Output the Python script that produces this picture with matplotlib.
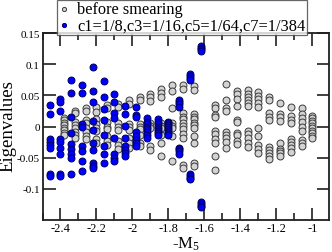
import matplotlib
matplotlib.use('Agg')
import matplotlib.pyplot as plt
import numpy as np

# eigenvalues, one list per -M5 column

# before smearing
gray_x = [-2.38, -2.32, -2.26, -2.20, -2.14, -2.08, -2.02, -1.96, -1.90, -1.84,
          -1.78, -1.72, -1.66, -1.54, -1.48, -1.42, -1.36, -1.30, -1.24, -1.18,
          -1.12, -1.06, -1.00]
gray_y = [
    [0.014, 0.010, 0.006, 0.002, -0.002, -0.006, -0.010, -0.014],
    [0.025, 0.021, 0.008, 0.003, -0.003, -0.009, -0.014, -0.019],
    [0.030, 0.025, 0.010, 0.006, -0.003, -0.009, -0.015, -0.020],
    [0.031, 0.024, 0.012, 0.004, -0.003, -0.008, -0.020, -0.027],
    [0.034, 0.029, 0.007, 0.000, -0.004, -0.015, -0.023, -0.030],
    [0.036, 0.032, 0.005, 0.000, -0.005, -0.023, -0.030, -0.037],
    [0.042, 0.037, 0.004, 0.000, -0.005, -0.019, -0.027, -0.034],
    [0.047, 0.042, 0.004, 0.000, -0.004, -0.014, -0.026, -0.031],
    [0.052, 0.047, 0.041, 0.005, 0.001, -0.003, -0.031, -0.038],
    [0.061, 0.054, 0.047, 0.005, 0.001, -0.003, -0.014, -0.026, -0.048],
    [0.066, 0.057, 0.030, 0.005, 0.001, -0.003, -0.015, -0.055],
    [0.066, 0.060, 0.021, 0.016, 0.012, 0.006, 0.001, -0.004, -0.012, -0.019, -0.062, -0.067],
    [0.065, 0.059, 0.020, 0.016, 0.012, 0.006, 0.002, -0.003, -0.016, -0.026, -0.059, -0.064],
    [0.034, 0.029, 0.019, 0.015, -0.007, -0.012, -0.020, -0.027, -0.047, -0.070],
    [0.069, 0.042, 0.030, 0.025, -0.009, -0.014, -0.019, -0.025, -0.035],
    [0.057, 0.052, 0.044, 0.033, 0.011, 0.008, -0.010, -0.014, -0.024, -0.028],
    [0.058, 0.053, 0.048, 0.043, 0.038, 0.033, -0.007, -0.012, -0.019, -0.027, -0.033],
    [0.055, 0.049, 0.044, 0.038, 0.031, -0.002, -0.016, -0.030, -0.036, -0.042],
    [0.048, 0.043, 0.021, 0.015, 0.010, -0.033, -0.038, -0.043, -0.048, -0.053],
    [0.038, 0.020, 0.015, 0.009, -0.026, -0.037, -0.040, -0.043, -0.047],
    [0.032, 0.017, 0.011, 0.005, -0.020, -0.025, -0.030, -0.035, -0.041],
    [0.030, 0.020, 0.013, 0.007, -0.001, -0.008, -0.021, -0.027, -0.032],
    [0.017, 0.013, 0.009, 0.005, 0.001, -0.003, -0.007, -0.011, -0.015, -0.019],
]

# smeared, c1=1/8,c3=1/16,c5=1/64,c7=1/384
blue_x = [-2.46, -2.40, -2.34, -2.28, -2.22, -2.16, -2.10, -2.04, -1.98, -1.92,
          -1.86, -1.80, -1.74, -1.68, -1.62]
blue_y = [
    [0.035, 0.020, -0.020, -0.025, -0.030, -0.035, -0.077, -0.080],
    [0.045, 0.040, 0.025, -0.020, -0.025, -0.034, -0.044, -0.077, -0.079],
    [0.075, 0.054, 0.0145, -0.011, -0.028, -0.036, -0.044, -0.050, -0.076],
    [0.0666, 0.054, 0.0037, -0.0016, -0.032, -0.039, -0.055, -0.071],
    [0.096, 0.057, 0.040, 0.009, -0.0055, -0.026, -0.038, -0.058, -0.063, -0.067],
    [0.074, 0.048, 0.028, 0.011, -0.013, -0.031, -0.044, -0.058],
    [0.052, 0.040, 0.021, 0.014, -0.018, -0.045, -0.050, -0.055],
    [0.033, 0.020, 0.001, -0.019, -0.032, -0.038, -0.043, -0.047],
    [0.031, 0.018, 0.015, -0.009, -0.016, -0.021, -0.027, -0.032],
    [0.013, 0.008, 0.004, 0.000, -0.004, -0.009, -0.014, -0.019],
    [0.012, 0.008, 0.004, 0.000, -0.004, -0.008, -0.011, -0.014],
    [0.008, 0.005, 0.002, -0.001, -0.004, -0.008, -0.011, -0.014],
    [0.043, 0.040, 0.036, 0.032, -0.034, -0.037, -0.040, -0.044],
    [0.084, 0.081, 0.078, 0.075, -0.077, -0.080, -0.083, -0.085],
    [0.130, 0.127, 0.124, 0.121, -0.122, -0.125, -0.128, -0.130],
]

plt.rcParams['font.family'] = ['Liberation Serif', 'DejaVu Serif']
plt.rcParams['mathtext.default'] = 'regular'

W, H = 332, 253
fig = plt.figure(figsize=(W / 100, H / 100), dpi=100)
ax = fig.add_axes([42.5 / W, 1 - 220.7 / H, 286 / W, 186.4 / H])

gx = np.concatenate([[x] * len(v) for x, v in zip(gray_x, gray_y)])
gy = np.concatenate(gray_y)
bx = np.concatenate([[x] * len(v) for x, v in zip(blue_x, blue_y)])
by = np.concatenate(blue_y)

ax.scatter(gx, gy, s=25, c='#d3d3d3', edgecolors='#3a3a3a', linewidths=0.7,
           label='before smearing', zorder=2)
ax.scatter(bx, by, s=25, c='#0000ff', edgecolors='#00005a', linewidths=0.7,
           label='c1=1/8,c3=1/16,c5=1/64,c7=1/384', zorder=3)

ax.set_xlim(-2.5, -0.91)
ax.set_ylim(-0.15, 0.15)
ax.set_xticks([-2.4, -2.2, -2.0, -1.8, -1.6, -1.4, -1.2, -1.0])
ax.set_xticklabels(['-2.4', '-2.2', '-2', '-1.8', '-1.6', '-1.4', '-1.2', '-1'])
ax.set_xticks(np.arange(-2.5, -0.9, 0.1), minor=True)
ax.set_yticks([-0.1, -0.05, 0, 0.05, 0.1, 0.15])
ax.set_yticklabels(['-0.1', '-0.05', '0', '0.05', '0.1', '0.15'])

ax.tick_params(which='both', direction='in', top=True, right=True, colors='#202020',
               labelcolor='black', width=1.2)
ax.tick_params(which='major', length=9, labelsize=9, pad=2)
ax.tick_params(which='minor', length=5)
ax.tick_params(axis='y', labelsize=8)
for sp in ax.spines.values():
    sp.set_linewidth(1.3)
    sp.set_color('#202020')

ax.set_xlabel('-M$_5$', fontsize=12, labelpad=0)
fig.text(8 / W, 1 - 126 / H, 'Eigenvalues', fontsize=13.5, rotation=90,
         ha='center', va='center')

leg = fig.legend(loc='upper left', bbox_to_anchor=(57 / W, 1 - 0.5 / H),
                 fontsize=11.8, frameon=True, fancybox=False, markerscale=0.6,
                 handlelength=0.6, handletextpad=0.5, borderpad=0.12,
                 labelspacing=0.0, borderaxespad=0)
leg.get_frame().set_edgecolor('#404040')
leg.get_frame().set_linewidth(0.9)

fig.savefig('out.png', dpi=100)
